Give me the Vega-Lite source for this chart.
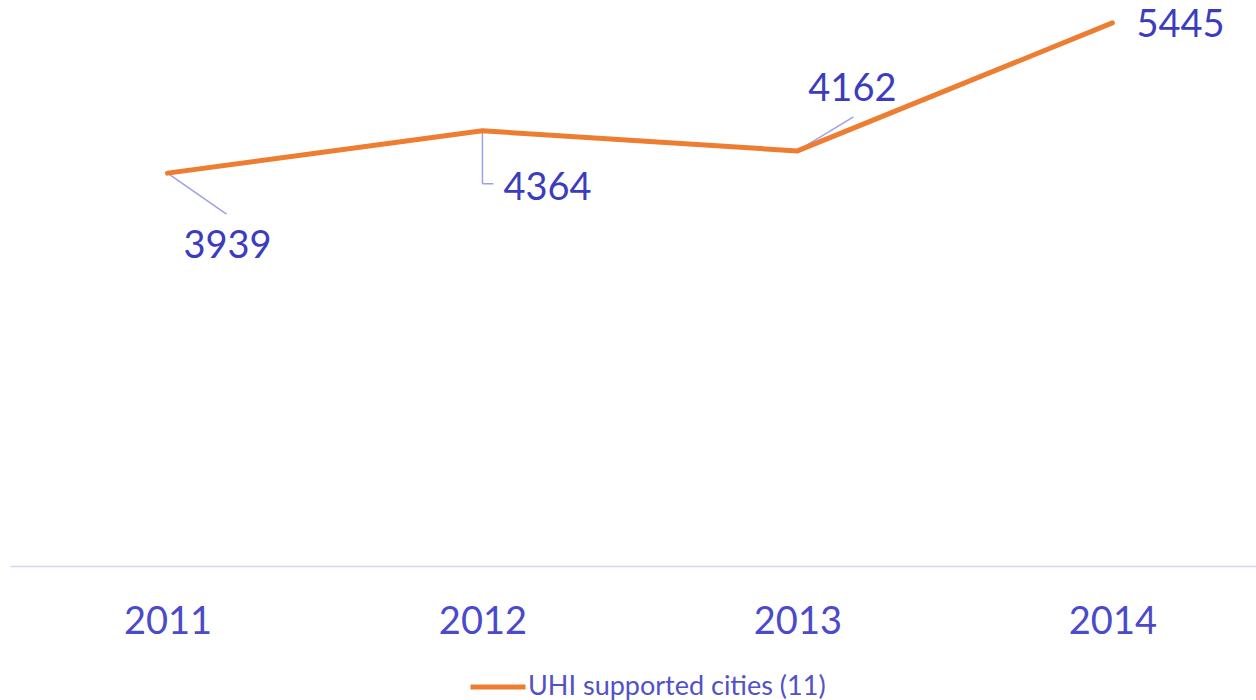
{
  "$schema": "https://vega.github.io/schema/vega-lite/v6.json",
  "width": 1246,
  "height": 566,
  "autosize": "none",
  "padding": {"left": 10, "top": 0, "right": 0, "bottom": 134},
  "background": "white",
  "config": {"view": {"stroke": null}, "font": "Lato"},
  "data": {"values": [
    {"year": 2011, "value": 3939, "series": "UHI supported cities (11)"},
    {"year": 2012, "value": 4364, "series": "UHI supported cities (11)"},
    {"year": 2013, "value": 4162, "series": "UHI supported cities (11)"},
    {"year": 2014, "value": 5445, "series": "UHI supported cities (11)"}
  ]},
  "encoding": {
    "x": {"field": "year", "type": "quantitative", "scale": {"domain": [2010.5, 2014.456], "nice": false, "zero": false},
      "axis": {"values": [2011, 2012, 2013, 2014], "format": "d", "title": null, "grid": false, "ticks": false, "tickSize": 0,
        "domainColor": "#D4D4F2", "domainWidth": 1.5, "labelFont": "Lato", "labelFontSize": 38, "labelColor": "#4A4ACB",
        "labelBaseline": "middle", "labelPadding": 56, "labelFlush": false, "labelOverlap": false}},
    "y": {"field": "value", "type": "quantitative", "scale": {"domain": [0, 5675], "nice": false}, "axis": null}
  },
  "layer": [
    {"transform": [{"filter": "datum.year == 2011"}],
     "mark": {"type": "rule", "color": "#A0A0E6", "strokeWidth": 1.5, "x2Offset": 59, "y2Offset": 41},
     "encoding": {"x2": {"field": "year"}, "y2": {"field": "value"}}},
    {"transform": [{"filter": "datum.year == 2012"}],
     "mark": {"type": "rule", "color": "#A0A0E6", "strokeWidth": 1.5, "y2Offset": 53},
     "encoding": {"x2": {"field": "year"}, "y2": {"field": "value"}}},
    {"transform": [{"filter": "datum.year == 2012"}],
     "mark": {"type": "rule", "color": "#A0A0E6", "strokeWidth": 1.5, "yOffset": 53, "y2Offset": 53, "x2Offset": 11},
     "encoding": {"x2": {"field": "year"}, "y2": {"field": "value"}}},
    {"transform": [{"filter": "datum.year == 2013"}],
     "mark": {"type": "rule", "color": "#A0A0E6", "strokeWidth": 1.5, "x2Offset": 56, "y2Offset": -34},
     "encoding": {"x2": {"field": "year"}, "y2": {"field": "value"}}},
    {"mark": {"type": "line", "strokeWidth": 5, "strokeCap": "round", "strokeJoin": "round"},
     "encoding": {"color": {"field": "series", "type": "nominal", "scale": {"range": ["#ED7D31"]},
       "legend": {"title": null, "orient": "none", "legendX": 458, "legendY": 657, "symbolType": "stroke", "symbolSize": 3025,
         "symbolStrokeWidth": 5, "labelFont": "Lato", "labelFontSize": 27, "labelColor": "#5252C8", "labelOffset": 0, "labelLimit": 0, "padding": 0}}}},
    {"transform": [{"filter": "datum.year == 2011"}],
     "mark": {"type": "text", "align": "center", "baseline": "middle", "dx": 60, "dy": 74, "fontSize": 38, "font": "Lato", "color": "#3C3CBE"},
     "encoding": {"text": {"field": "value", "type": "quantitative", "format": "d"}}},
    {"transform": [{"filter": "datum.year == 2012"}],
     "mark": {"type": "text", "align": "left", "baseline": "middle", "dx": 21, "dy": 58, "fontSize": 38, "font": "Lato", "color": "#3C3CBE"},
     "encoding": {"text": {"field": "value", "type": "quantitative", "format": "d"}}},
    {"transform": [{"filter": "datum.year == 2013"}],
     "mark": {"type": "text", "align": "center", "baseline": "middle", "dx": 55, "dy": -61, "fontSize": 38, "font": "Lato", "color": "#3C3CBE"},
     "encoding": {"text": {"field": "value", "type": "quantitative", "format": "d"}}},
    {"transform": [{"filter": "datum.year == 2014"}],
     "mark": {"type": "text", "align": "left", "baseline": "middle", "dx": 24, "dy": 3, "fontSize": 38, "font": "Lato", "color": "#3C3CBE"},
     "encoding": {"text": {"field": "value", "type": "quantitative", "format": "d"}}}
  ]
}
